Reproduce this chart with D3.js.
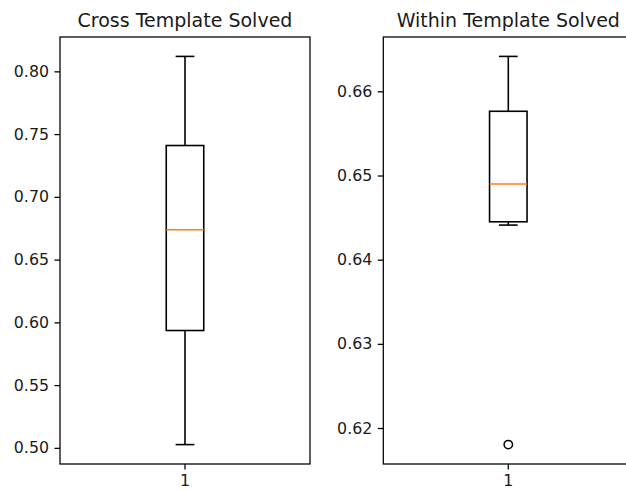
<!DOCTYPE html>
<html>
<head>
<meta charset="utf-8">
<script src="https://cdn.jsdelivr.net/npm/d3@7"></script>
<style>
  html, body { margin: 0; padding: 0; background: #fff; overflow: hidden; }
  svg { display: block; }
  text { font-family: "DejaVu Sans", sans-serif; fill: #1a1a1a; }
</style>
</head>
<body>
<script>
// Panel titles
const titles = ["Cross Template Solved", "Within Template Solved"];
// Box summaries per panel: [lower whisker, Q1, median, Q3, upper whisker]
const crossStats = [0.5026, 0.5935, 0.6738, 0.7409, 0.8119];
const withinStats = [0.64411, 0.64450, 0.6490, 0.65763, 0.66415];
// Outlier points per panel
const crossFliers = [];
const withinFliers = [0.61803];
// Tick values per panel
const crossTicks = [0.50, 0.55, 0.60, 0.65, 0.70, 0.75, 0.80];
const withinTicks = [0.62, 0.63, 0.64, 0.65, 0.66];
const xCategories = ["1"];

const W = 626, H = 491;
const svg = d3.select("body").append("svg").attr("width", W).attr("height", H);

const plotTop = 37, plotBottom = 464, axW = 250;
const panels = [
  { left: 60, title: titles[0], stats: crossStats, fliers: crossFliers, ticks: crossTicks, fmt: d3.format(".2f") },
  { left: 383.3, title: titles[1], stats: withinStats, fliers: withinFliers, ticks: withinTicks, fmt: d3.format(".2f") }
];

const tickLen = 5.5, tickPad = 5.5, lw = 1.58;

panels.forEach(p => {
  const g = svg.append("g");
  const vals = p.stats.concat(p.fliers);
  const lo = d3.min(vals), hi = d3.max(vals), pad = (hi - lo) * 0.05;
  const y = d3.scaleLinear().domain([lo - pad, hi + pad]).range([plotBottom, plotTop]);
  const x = d3.scaleBand().domain(xCategories).range([p.left, p.left + axW]).paddingInner(0).paddingOuter(0);
  const cx = x(xCategories[0]) + x.bandwidth() / 2;
  const boxW = axW * 0.15, capW = boxW / 2;
  const [wl, q1, med, q3, wh] = p.stats;

  // whiskers
  g.append("line").attr("x1", cx).attr("x2", cx).attr("y1", y(q3)).attr("y2", y(wh))
    .attr("stroke", "#000").attr("stroke-width", lw);
  g.append("line").attr("x1", cx).attr("x2", cx).attr("y1", y(q1)).attr("y2", y(wl))
    .attr("stroke", "#000").attr("stroke-width", lw);
  // caps
  [wl, wh].forEach(v => {
    g.append("line").attr("x1", cx - capW / 2).attr("x2", cx + capW / 2).attr("y1", y(v)).attr("y2", y(v))
      .attr("stroke", "#000").attr("stroke-width", lw);
  });
  // box
  g.append("rect").attr("x", cx - boxW / 2).attr("y", y(q3)).attr("width", boxW).attr("height", y(q1) - y(q3))
    .attr("fill", "none").attr("stroke", "#000").attr("stroke-width", lw);
  // median
  g.append("line").attr("x1", cx - boxW / 2).attr("x2", cx + boxW / 2).attr("y1", y(med)).attr("y2", y(med))
    .attr("stroke", "#ff7f0e").attr("stroke-width", lw);
  // outliers
  g.selectAll("circle.flier").data(p.fliers).enter().append("circle")
    .attr("class", "flier").attr("cx", cx).attr("cy", d => y(d)).attr("r", 4.2)
    .attr("fill", "none").attr("stroke", "#000").attr("stroke-width", 1.5);

  // axes
  const yAxis = d3.axisLeft(y).tickValues(p.ticks).tickFormat(p.fmt).tickSize(tickLen).tickPadding(tickPad);
  const ya = g.append("g").attr("transform", `translate(${p.left},0)`).call(yAxis);
  const xAxis = d3.axisBottom(x).tickSize(tickLen).tickPadding(tickPad);
  const xa = g.append("g").attr("transform", `translate(0,${plotBottom})`).call(xAxis);
  [ya, xa].forEach(a => {
    a.select(".domain").remove();
    a.selectAll(".tick line").attr("stroke", "#000").attr("stroke-width", 1.27);
    a.selectAll(".tick text").attr("font-size", "15.8px").attr("font-family", "DejaVu Sans").attr("fill", "#1a1a1a");
  });

  // frame
  g.append("rect").attr("x", p.left).attr("y", plotTop).attr("width", axW).attr("height", plotBottom - plotTop)
    .attr("fill", "none").attr("stroke", "#000").attr("stroke-width", 1.27);

  // title
  g.append("text").attr("x", p.left + axW / 2).attr("y", plotTop - 10)
    .attr("text-anchor", "middle").attr("font-size", "19px").text(p.title);
});
</script>
</body>
</html>
